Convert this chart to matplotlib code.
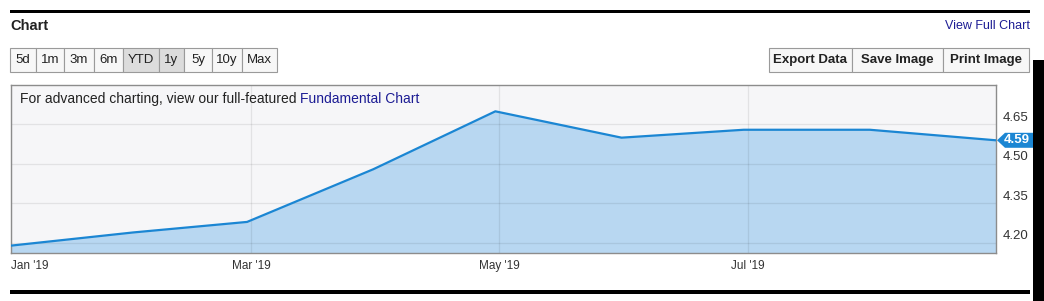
import matplotlib
matplotlib.use("Agg")
import matplotlib.pyplot as plt
import matplotlib.dates as mdates
from matplotlib.patches import Rectangle, Polygon
import pandas as pd

plt.rcParams['font.family'] = ['Liberation Sans', 'DejaVu Sans']

# data (month-end values)
dates = pd.to_datetime(['2019-01-01', '2019-01-31', '2019-02-28', '2019-03-31', '2019-04-30',
                        '2019-05-31', '2019-06-30', '2019-07-31', '2019-08-31'])
values = [4.19, 4.24, 4.28, 4.48, 4.70, 4.60, 4.63, 4.63, 4.59]
y_ticks = [4.20, 4.35, 4.50, 4.65]
x_ticks = pd.to_datetime(['2019-01-01', '2019-03-01', '2019-05-01', '2019-07-01'])
x_labels = ["Jan '19", "Mar '19", "May '19", "Jul '19"]
range_buttons = ['5d', '1m', '3m', '6m', 'YTD', '1y', '5y', '10y', 'Max']
selected = ['YTD', '1y']
action_buttons = ['Export Data', 'Save Image', 'Print Image']

# layout (pixels)
W, H = 1044, 301
button_edges = [10, 36, 64, 94, 123, 159, 184, 212, 242, 277]
action_edges = [769, 852, 943, 1029]
line_col = '#1b86d3'
fill_col = '#b8d7f1'
link_col = '#1c1c94'
text_col = '#222222'

fig = plt.figure(figsize=(W / 100, H / 100), dpi=100)


def rect_px(x0, y0, x1, y1, **kw):
    r = Rectangle((x0 / W, 1 - y1 / H), (x1 - x0) / W, (y1 - y0) / H,
                  transform=fig.transFigure, **kw)
    fig.add_artist(r)
    return r


def text_px(x, y, s, **kw):
    return fig.text(x / W, 1 - y / H, s, **kw)


# header
rect_px(10, 10, 1030, 13, facecolor='black', edgecolor='none')
text_px(10, 26, 'Chart', fontsize=10.5, fontweight='bold', color=text_col, va='center')
text_px(1030, 26, 'View Full Chart', fontsize=9, color=link_col, va='center', ha='right')

# range buttons
for i, lab in enumerate(range_buttons):
    x0, x1 = button_edges[i], button_edges[i + 1]
    fc = '#dcdcdc' if lab in selected else '#f7f7f7'
    rect_px(x0, 48, x1, 72, facecolor=fc, edgecolor='#9a9a9a', linewidth=0.8)
    text_px((x0 + x1) / 2, 60, lab, fontsize=9.5, color=text_col, ha='center', va='center')

for i, lab in enumerate(action_buttons):
    x0, x1 = action_edges[i], action_edges[i + 1]
    rect_px(x0, 48, x1, 72, facecolor='#f7f7f7', edgecolor='#9a9a9a', linewidth=0.8)
    text_px((x0 + x1) / 2, 60, lab, fontsize=9.5, fontweight='bold', color=text_col,
            ha='center', va='center')

# chart
ax = fig.add_axes([11 / W, 1 - 253 / H, 985 / W, 168 / H])
ax.set_facecolor('#f6f6f8')
ax.set_ylim(4.162, 4.80)
ax.set_xlim(pd.Timestamp('2019-01-01'), pd.Timestamp('2019-08-31'))
ax.fill_between(dates, values, 4.162, color=fill_col, linewidth=0, zorder=1)
ax.plot(dates, values, color=line_col, linewidth=1.6, zorder=3)

ax.set_axisbelow('line')
ax.set_yticks(y_ticks)
ax.set_yticklabels([])
ax.yaxis.tick_right()
# y labels sit a little above their grid lines
for v in y_ticks:
    ax.annotate(f'{v:.2f}', xy=(1, v), xycoords=('axes fraction', 'data'),
                xytext=(4.5, 5), textcoords='offset points', fontsize=9.5,
                color='#333333', va='center', ha='left', annotation_clip=False)
ax.set_xticks(x_ticks)
ax.set_xticklabels(x_labels)
ax.xaxis.get_majorticklabels()[0].set_horizontalalignment('left')
ax.tick_params(axis='y', length=0)
ax.tick_params(axis='x', length=0, pad=5, labelsize=8.5, labelcolor='#333333')
ax.grid(True, color='black', alpha=0.08, linewidth=0.9)
for sp in ax.spines.values():
    sp.set_color('#8c8c8c')
    sp.set_linewidth(1)

# note text with link
renderer = fig.canvas.get_renderer()
t1 = text_px(20, 99, 'For advanced charting, view our full-featured ', fontsize=10,
             color=text_col, va='center', zorder=5)
bb = t1.get_window_extent(renderer)
fig.text(bb.x1 / W, 1 - 99 / H, 'Fundamental Chart', fontsize=10, color=link_col,
         va='center', zorder=5)

# last value tag
xd, yd = ax.transData.transform((mdates.date2num(dates[-1]), values[-1]))
tag = Polygon([(xd + 1, yd), (xd + 9, yd + 7.5), (1040, yd + 7.5), (1040, yd - 7.5),
               (xd + 9, yd - 7.5)], closed=True, transform=None, facecolor=line_col,
              edgecolor='none', zorder=8)
fig.add_artist(tag)
fig.text((xd + 8) / W, yd / H, f'{values[-1]:.2f}', fontsize=9.5, fontweight='bold',
         color='white', va='center', zorder=9)

# frame lines
rect_px(1033, 60, 1044, 301, facecolor='black', edgecolor='none', zorder=20)
rect_px(10, 290, 1030, 294, facecolor='black', edgecolor='none')

fig.savefig('out.png', dpi=100, facecolor='white')
